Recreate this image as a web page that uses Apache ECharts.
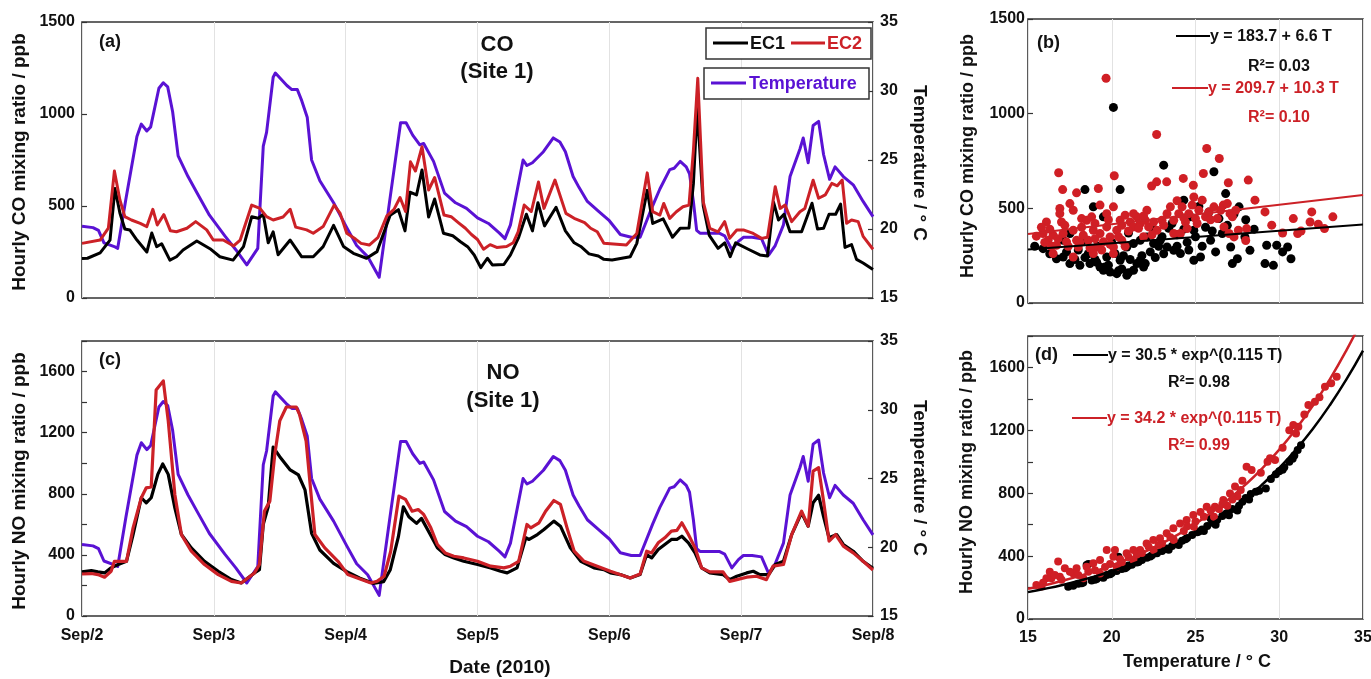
<!DOCTYPE html>
<html><head><meta charset="utf-8">
<script src="https://cdn.jsdelivr.net/npm/echarts@6/dist/echarts.min.js"></script>
<style>html,body{margin:0;padding:0;background:#fff}#chart{width:1371px;height:679px}</style>
</head><body><div id="chart"></div>
<script>
// ---------- DATA ----------
const dayLabels = ['Sep/2','Sep/3','Sep/4','Sep/5','Sep/6','Sep/7','Sep/8'];
// [hours since Sep/2 00:00, value]
const temperature = [[0,20.2],[2,20.1],[3,19.9],[4,19.0],[6,18.7],[6.5,18.6],[8,22.2],[10,26.7],[10.8,27.6],[11.8,27.1],[12.5,27.4],[14,30.2],[14.8,30.6],[15.6,30.3],[16.5,28.5],[17.5,25.3],[19.3,23.8],[21.1,22.5],[23.2,21.0],[26,19.5],[28,18.5],[30,17.4],[32,18.6],[33,26.0],[33.6,27.0],[34.8,31.0],[35.2,31.3],[37.3,30.4],[38.2,30.1],[39.2,30.1],[40,29.3],[41,28.1],[41.8,25.0],[43.3,23.5],[45.8,21.9],[48.2,20.1],[50,18.8],[52,18.0],[54.1,16.5],[56,22.0],[58,27.7],[59,27.7],[60.2,26.8],[61.5,26.1],[62.2,26.2],[64,24.9],[66,22.6],[68,21.9],[70,21.5],[72,20.8],[74,20.4],[76,19.7],[77,19.3],[78,20.3],[80.3,25.0],[81,24.6],[82,24.8],[84,25.6],[85.8,26.6],[87,26.3],[88,25.6],[89.4,23.8],[90.5,23.0],[92,22.0],[94,21.3],[96,20.6],[98,19.6],[100,19.4],[101.6,19.4],[102.2,20.0],[103.9,21.7],[105.2,22.9],[107,24.3],[107.8,24.4],[108.9,24.9],[110,24.5],[110.6,24.0],[111.3,22.0],[111.9,19.9],[112.5,19.7],[116,19.7],[117,19.5],[118.3,18.5],[119.5,19.1],[120.4,19.4],[122,19.4],[123.7,19.3],[125,18.1],[126.2,18.8],[127.7,20.3],[128.9,23.8],[130.7,25.8],[131.3,26.6],[132.2,24.8],[133.1,27.5],[134.1,27.8],[135,25.4],[136.1,23.6],[137.1,24.5],[138.6,23.8],[140.4,23.2],[142.2,22.0],[144,20.9]];

const coEC1 = [[0,215],[1,216],[3.3,245],[5.1,315],[6,595],[6.9,462],[7.8,375],[8.7,370],[10,315],[11.8,250],[12.7,353],[13.6,279],[14.5,295],[16,206],[17.2,224],[18.4,261],[20.9,310],[23.3,268],[25.1,224],[27.5,206],[29.4,279],[30.9,442],[32.1,433],[33,455],[33.9,300],[34.8,360],[35.7,235],[37.9,315],[40,224],[42.1,224],[43.9,279],[45.8,395],[47.6,280],[49.4,243],[51.8,216],[53.7,252],[56.1,450],[57.6,480],[58.8,365],[59.7,575],[60.9,560],[61.9,696],[63.1,440],[64.2,538],[65.8,352],[67.5,338],[68.9,306],[70.2,279],[71.4,234],[72.6,165],[73.8,216],[74.7,180],[76.8,182],[78,234],[79.5,330],[80.9,455],[82,365],[83,518],[84.2,392],[86.3,493],[88,365],[89.6,300],[90.8,280],[92.3,240],[94,228],[95,210],[96.5,206],[99.8,224],[101,297],[102.9,585],[103.9,405],[105.8,430],[107.5,330],[108.9,379],[110.5,380],[111.3,620],[112,1030],[113.1,500],[114.2,340],[115.8,270],[117,300],[118,225],[119,300],[121.3,265],[123.4,234],[124.8,228],[125.9,520],[126.8,424],[127.8,455],[128.9,360],[131,360],[132.9,515],[133.9,375],[135,379],[136,455],[137.2,455],[138.1,510],[138.9,275],[140.1,290],[141,210],[142.2,190],[144,155]];

const coEC2 = [[0,297],[3.3,315],[4.8,380],[5.9,690],[6.9,533],[7.8,442],[9,424],[10.6,406],[11.8,388],[12.9,482],[13.7,397],[14.9,453],[16.1,365],[17.2,360],[19.1,379],[20.7,415],[22.7,370],[23.9,315],[25.7,315],[27.6,283],[28.8,315],[30.9,505],[32.4,487],[33.6,442],[34.8,424],[36.6,440],[37.9,482],[38.9,385],[40.9,370],[42.1,352],[43.9,388],[45.9,505],[47,460],[48.2,352],[49.8,320],[50.8,297],[52.3,288],[53.9,330],[55.5,446],[56.8,482],[57.9,546],[58.9,470],[59.8,740],[60.7,690],[61.9,822],[63.1,587],[64.2,655],[65.9,451],[67.2,442],[68.5,410],[69.8,379],[70.9,345],[72,318],[73.1,265],[74.3,290],[75.5,275],[77.3,280],[78.5,300],[79.4,360],[80.5,505],[81.8,470],[83.1,630],[84.1,487],[86.1,641],[88.1,460],[89.6,433],[91.5,410],[92.6,379],[93.8,360],[95,297],[99.1,288],[101,350],[102.9,680],[103.9,469],[105.2,451],[105.9,514],[107,433],[108.2,469],[109.4,496],[110.5,505],[111.3,800],[112.1,1194],[113.1,523],[114.3,379],[115.8,360],[117,415],[117.9,324],[119.2,370],[120.4,370],[122.2,351],[123.7,324],[124.8,330],[126.2,605],[127.1,487],[128,505],[129.2,415],[130.7,469],[131.6,487],[133.1,640],[134.1,542],[135.3,560],[136.5,623],[137.5,610],[138.4,641],[139.2,406],[140.1,424],[141.3,415],[142.2,335],[144,265]];

const noEC1 = [[0,289],[1.7,297],[2.9,289],[4.1,282],[5.3,315],[6.6,337],[8.1,358],[9.3,533],[10.8,774],[11.7,741],[12.6,774],[13.8,927],[14.7,995],[15.7,927],[16.9,708],[18.1,533],[19.9,446],[22.3,358],[24.8,293],[27.2,238],[29,216],[31.4,282],[32.3,304],[33,600],[33.9,715],[34.8,1105],[36,1043],[37.9,956],[39.4,923],[40.6,825],[41.8,541],[43.3,432],[45.8,345],[48.2,290],[50.6,247],[53,214],[54.9,225],[56.1,301],[57.6,519],[58.5,715],[59.5,650],[60.9,606],[61.8,639],[63.3,540],[64.7,446],[66.1,402],[67.7,380],[69.5,358],[72,337],[74.4,315],[76.2,293],[77.4,282],[79.2,315],[80.8,512],[81.4,501],[82.9,533],[84.1,566],[85.9,621],[87.1,588],[88.9,446],[90.8,358],[93.2,315],[95,304],[96.2,282],[98,271],[99.8,249],[101.6,271],[102.8,402],[103.7,380],[104.9,435],[106.1,468],[107.3,501],[108.3,501],[109.2,522],[110.4,479],[111.6,413],[112.8,315],[114.3,282],[116.7,271],[117.9,238],[119.2,260],[121,282],[122.2,293],[123.4,271],[125,271],[126.2,337],[127.7,358],[129.2,533],[131,675],[132.2,588],[133.1,741],[134.1,790],[135,650],[136,512],[137.4,533],[138.6,468],[140.4,424],[142.2,358],[144,312]];

const noEC2 = [[0,275],[1.7,278],[2.9,271],[4.1,254],[5.3,293],[5.9,358],[8.1,358],[9.3,577],[10.8,774],[11.7,839],[12.6,845],[13.5,1480],[14.8,1539],[15.7,1277],[16.9,796],[18.1,533],[19.9,424],[22.3,337],[24.8,271],[27.2,227],[29,216],[31.4,282],[32.3,337],[33.2,686],[34.2,752],[35.1,1058],[36,1277],[37.2,1368],[39,1368],[39.6,1320],[40.8,1145],[41.7,796],[42.4,533],[44.2,446],[46.6,358],[48.4,271],[50,250],[52.6,216],[53.7,227],[55,260],[56.2,424],[57.7,785],[58.9,763],[60.1,686],[61.2,697],[62.2,665],[63.5,577],[64.7,468],[66.1,413],[67.7,391],[69.5,380],[72,358],[74.4,326],[76.8,315],[78,326],[79.5,358],[81,599],[81.7,577],[83.2,610],[84.4,686],[85.9,756],[87.1,730],[88.3,577],[89.6,424],[91.4,358],[93.8,326],[96.2,293],[99.8,249],[101.6,275],[102.8,424],[103.7,413],[104.9,479],[106.1,512],[107.3,555],[108.3,560],[109.2,610],[110.4,533],[111.6,446],[112.8,315],[114.3,289],[116.7,289],[117.9,227],[119.2,238],[121,254],[122.8,260],[124.6,238],[125.8,326],[127.7,337],[129.2,533],[131,686],[132.2,588],[133.1,949],[134.1,971],[135,752],[136,490],[137.2,533],[138.6,457],[140.4,413],[142.2,358],[144,301]];

// scatter [temperature, mixing ratio]
const coScatterEC1 = [[20.1,1033],[23.1,728],[26.1,693],[18.4,599],[20.5,599],[26.8,578],[27.6,508],[29.25,305],[29.85,305],[30.2,270],[30.5,296],[30.7,234],[29.15,208],[29.65,199],[27.1,296],[27.2,208],[27.5,234],[28.25,278],[27.95,349],[28.0,440],[24.3,543],[24.7,455],[24.9,384],[24.9,226],[25.3,243],[25.9,331],[26.4,446],[26.6,367],[26.2,270],[25.6,400],[25.0,350],[24.5,320],[23.9,360],[23.4,395],[23.0,350],[22.8,300],[16.7,234],[17.1,243],[17.5,208],[18.1,199],[18.7,208],[19.3,190],[19.5,173],[19.9,164],[20.3,155],[20.9,146],[21.3,173],[21.5,208],[21.9,190],[22.0,208],[20.5,226],[19.7,243],[20.2,261],[20.9,296],[21.3,314],[21.7,331],[22.1,349],[22.5,314],[22.9,331],[23.3,296],[23.7,278],[24.1,261],[22.5,384],[17.5,367],[17.1,331],[15.9,287],[15.4,300],[18.9,508],[19.5,455],[18.0,280],[18.6,260],[19.0,230],[19.8,200],[20.6,180],[21.1,230],[21.8,250],[22.3,270],[17.8,230],[16.3,260],[20.0,320],[19.2,300],[18.3,330],[21.0,370],[23.6,420],[24.6,280],[26.9,410],[27.3,470],[25.8,480],[28.5,390],[25.2,510],[19.1,215],[19.6,190],[20.4,170],[21.0,160],[21.7,225],[22.6,240],[23.1,260],[23.9,300],[24.3,390],[25.4,300],[26.0,380],[20.7,250],[18.4,240],[17.3,270]];

const coScatterEC2 = [[19.66,1187],[22.68,890],[25.67,816],[26.42,763],[16.83,688],[20.15,672],[24.27,658],[25.47,684],[26.96,635],[28.15,649],[22.38,618],[23.28,640],[22.68,640],[17.07,599],[17.9,582],[19.2,605],[24.87,622],[28.55,543],[16.9,499],[17.7,490],[18.2,446],[19.3,517],[16.1,428],[17.0,428],[29.15,481],[29.55,411],[30.84,446],[31.94,481],[31.84,428],[32.33,416],[32.7,393],[33.2,455],[31.1,367],[28.05,393],[27.56,384],[27.06,472],[26.66,517],[15.5,353],[15.9,367],[16.2,331],[16.5,358],[16.7,305],[17.1,367],[17.3,323],[17.7,384],[18.0,296],[18.3,358],[18.6,331],[18.9,384],[19.1,296],[19.3,367],[19.5,323],[19.7,402],[19.9,349],[20.1,296],[20.3,384],[20.5,437],[20.6,331],[20.8,464],[21.1,428],[21.3,402],[21.5,455],[21.7,420],[22.0,437],[22.2,402],[22.5,428],[22.7,384],[23.0,437],[23.3,472],[23.5,508],[23.7,437],[24.0,472],[24.2,508],[24.4,428],[24.6,472],[24.8,517],[25.0,446],[25.2,490],[25.4,543],[25.6,455],[25.8,481],[26.1,508],[26.3,446],[26.5,490],[26.7,402],[26.9,525],[27.2,455],[27.4,490],[23.7,367],[24.1,367],[24.5,393],[18.5,437],[16.9,472],[17.5,525],[17.9,331],[18.8,455],[19.7,472],[20.1,508],[21.3,472],[22.1,490],[27.3,349],[27.0,367],[16.5,261],[17.7,243],[18.9,261],[20.1,261],[15.8,400],[16.4,300],[19.0,340],[20.8,300],[21.9,350],[30.2,370],[31.3,380],[16.0,320],[16.8,340],[17.4,300],[18.1,320],[18.7,290],[19.4,280],[19.9,310],[20.4,350],[21.0,380],[21.6,395],[22.4,360],[23.1,410],[24.3,450],[25.1,420],[25.9,440],[16.3,390],[17.2,410],[18.2,400],[19.0,420],[19.8,440],[20.6,410],[21.9,460],[23.9,540],[24.9,560],[28.0,330]];

const noScatterEC1 = [[17.4,205],[17.7,212],[18.0,225],[18.3,232],[18.5,343],[18.6,350],[18.8,245],[19.1,255],[19.4,265],[19.7,280],[20.0,292],[20.3,305],[20.4,396],[20.6,318],[20.9,330],[21.2,345],[21.5,360],[21.8,375],[22.1,390],[22.4,405],[22.7,418],[23.0,432],[23.3,448],[23.6,465],[23.9,480],[24.2,498],[24.5,515],[24.8,535],[25.1,552],[25.4,570],[25.7,592],[26.0,612],[26.3,632],[26.6,655],[26.9,675],[27.2,700],[27.5,690],[27.8,745],[28.0,770],[28.3,795],[28.6,810],[29.2,830],[29.5,890],[29.8,920],[30.0,940],[30.3,965],[30.6,1000],[30.9,1040],[31.1,1075],[31.3,1105],[21.0,340],[22.6,425],[24.0,470],[25.5,560],[26.2,600],[27.0,660],[19.5,262],[23.4,440],[25.9,640],[28.2,760],[18.2,228],[19.0,250],[19.9,285],[20.8,322],[21.6,362],[22.3,398],[23.2,445],[24.4,508],[25.2,556],[26.1,618],[26.8,668],[27.6,720],[28.8,815],[30.2,950],[30.8,1020]];

const noScatterEC2 = [[33.43,1541],[33.1,1500],[32.73,1478],[32.4,1410],[32.13,1382],[31.74,1361],[31.5,1300],[31.14,1223],[30.84,1234],[30.6,1200],[29.45,1022],[29.75,1011],[29.3,1000],[28.05,969],[28.35,948],[27.8,880],[27.36,842],[27.06,799],[26.66,757],[26.16,714],[25.67,714],[25.3,680],[24.87,661],[24.47,630],[24.08,608],[23.68,577],[23.28,545],[22.88,513],[22.48,502],[22.08,481],[21.69,439],[21.29,439],[20.89,418],[20.19,439],[19.70,439],[20.1,396],[19.3,375],[18.9,354],[18.5,333],[17.9,322],[17.7,290],[16.8,365],[17.2,322],[16.4,259],[16.1,259],[15.5,216],[15.8,206],[16.9,269],[18.3,259],[19.3,290],[20.3,333],[21.3,375],[22.5,439],[23.7,502],[24.9,587],[26.1,651],[26.9,720],[27.5,780],[25.9,690],[24.3,560],[23.0,480],[21.8,420],[20.6,360],[19.0,310],[18.0,280],[22.2,460],[23.5,520],[25.0,620],[26.4,700],[27.2,760],[16.3,300],[17.0,250],[19.9,350],[21.0,395],[15.9,230],[16.6,280],[17.5,300],[18.6,300],[19.6,330],[20.5,380],[21.5,410],[22.8,470],[24.5,590],[25.5,650],[26.6,730],[27.7,820],[28.9,930],[30.2,1090],[31.0,1180]];

// fit lines as drawn
const linFitT = [15, 35];
const linFitEC1 = [282.7, 414.7];
const linFitEC2 = [364.2, 570.2];
const expFitT = [15,16,17,18,19,20,21,22,23,24,25,26,27,28,29,30,31,32,33,34,35];
const expFitEC1 = [171,192,215,242,271,304,341,383,430,482,541,607,681,763,857,961,1078,1209,1357,1522,1707];
const expFitEC2 = [192,215,242,271,304,341,383,429,482,540,606,680,763,856,960,1077,1209,1356,1521,1707,1915];

// ---------- CHART ----------
const FONT = '"Liberation Sans", Arial, Helvetica, sans-serif';
const BLACK = '#000000', RED = '#cc2127', PURPLE = '#5a12d4', FRAME = '#333333';
const chart = echarts.init(document.getElementById('chart'), null, {renderer: 'canvas'});

const lbl = (extra) => Object.assign({color: '#111', fontWeight: 'bold', fontSize: 16, fontFamily: FONT, formatter: v => String(v)}, extra || {});
const tickIn = {show: true, inside: true, length: 5, lineStyle: {color: FRAME, width: 1.2}};
const noLine = {show: false};
const vSplit = {show: true, lineStyle: {color: '#e2e2e2', width: 1}};

const grids = [
  {left: 82, top: 22, width: 791, height: 276},
  {left: 82, top: 341, width: 791, height: 275},
  {left: 1028, top: 19, width: 335, height: 284},
  {left: 1028, top: 336, width: 335, height: 283}
].map(g => Object.assign(g, {show: true, borderColor: FRAME, borderWidth: 1.6, backgroundColor: '#fff', containLabel: false, outerBoundsMode: 'none'}));

const xAxes = [
  {gridIndex: 0, type: 'value', min: 0, max: 144, interval: 24, axisLabel: {show: false}, axisTick: {show: false}, axisLine: noLine, splitLine: vSplit},
  {gridIndex: 1, type: 'value', min: 0, max: 144, interval: 24, axisLabel: lbl({margin: 12, formatter: v => dayLabels[Math.round(v / 24)]}), axisTick: {show: false}, axisLine: noLine, splitLine: vSplit},
  {gridIndex: 2, type: 'value', min: 15, max: 35, interval: 5, axisLabel: {show: false}, axisTick: {show: false}, axisLine: noLine, splitLine: vSplit},
  {gridIndex: 3, type: 'value', min: 15, max: 35, interval: 5, axisLabel: lbl({margin: 11}), axisTick: {show: false}, axisLine: noLine, splitLine: vSplit}
];
const yAxes = [
  {gridIndex: 0, type: 'value', position: 'left', min: 0, max: 1500, interval: 500, axisLabel: lbl({margin: 7}), axisTick: tickIn, axisLine: noLine, splitLine: {show: false}},
  {gridIndex: 0, type: 'value', position: 'right', min: 15, max: 35, interval: 5, axisLabel: lbl({margin: 7}), axisTick: tickIn, axisLine: noLine, splitLine: {show: false}},
  {gridIndex: 1, type: 'value', position: 'left', min: 0, max: 1800, interval: 200, axisLabel: lbl({margin: 7, formatter: v => (v % 400 === 0 ? String(v) : '')}), axisTick: tickIn, axisLine: noLine, splitLine: {show: false}},
  {gridIndex: 1, type: 'value', position: 'right', min: 15, max: 35, interval: 5, axisLabel: lbl({margin: 7}), axisTick: tickIn, axisLine: noLine, splitLine: {show: false}},
  {gridIndex: 2, type: 'value', position: 'left', min: 0, max: 1500, interval: 500, axisLabel: lbl({margin: 3}), axisTick: tickIn, axisLine: noLine, splitLine: {show: false}},
  {gridIndex: 3, type: 'value', position: 'left', min: 0, max: 1800, interval: 200, axisLabel: lbl({margin: 3, formatter: v => (v % 400 === 0 ? String(v) : '')}), axisTick: tickIn, axisLine: noLine, splitLine: {show: false}}
];

const lineS = (name, data, xi, yi, color, width, z) => ({
  name, type: 'line', xAxisIndex: xi, yAxisIndex: yi, data, symbol: 'none', showSymbol: false,
  lineStyle: {color, width, join: 'round'}, itemStyle: {color}, z: z || 2, clip: true, silent: true
});
const scatS = (name, data, xi, yi, color, size) => ({
  name, type: 'scatter', xAxisIndex: xi, yAxisIndex: yi, data, symbolSize: size,
  itemStyle: {color, opacity: 1}, z: 3, silent: true
});
const pairs = (xs, ys) => xs.map((x, i) => [x, ys[i]]);

const series = [
  lineS('Temperature', temperature, 0, 1, PURPLE, 3, 2),
  lineS('CO EC1', coEC1, 0, 0, BLACK, 3, 3),
  lineS('CO EC2', coEC2, 0, 0, RED, 3, 4),
  lineS('Temperature (NO)', temperature, 1, 3, PURPLE, 3, 2),
  lineS('NO EC1', noEC1, 1, 2, BLACK, 3.2, 3),
  lineS('NO EC2', noEC2, 1, 2, RED, 3.2, 4),
  scatS('CO EC1 vs T', coScatterEC1, 2, 4, BLACK, 9),
  scatS('CO EC2 vs T', coScatterEC2, 2, 4, '#d01f25', 9),
  lineS('CO EC1 fit', pairs(linFitT, linFitEC1), 2, 4, BLACK, 2, 5),
  lineS('CO EC2 fit', pairs(linFitT, linFitEC2), 2, 4, RED, 2, 5),
  scatS('NO EC1 vs T', noScatterEC1, 3, 5, BLACK, 8),
  scatS('NO EC2 vs T', noScatterEC2, 3, 5, '#d01f25', 8),
  Object.assign(lineS('NO EC1 fit', pairs(expFitT, expFitEC1), 3, 5, BLACK, 2.5, 5), {smooth: true}),
  Object.assign(lineS('NO EC2 fit', pairs(expFitT, expFitEC2), 3, 5, RED, 2.5, 5), {smooth: true})
];

const txt = (x, y, text, size, color, align, rot) => ({
  type: 'text', x, y, rotation: rot || 0, z: 100,
  style: {text, fill: color || '#111', font: 'bold ' + size + 'px ' + FONT,
    textAlign: align || 'center', textVerticalAlign: 'middle', align: align || 'center', verticalAlign: 'middle'}
});
const seg = (x1, y1, x2, y2, color, w) => ({type: 'line', z: 100, shape: {x1, y1, x2, y2}, style: {stroke: color, lineWidth: w}});
const box = (x, y, w, h) => ({type: 'rect', z: 99, shape: {x, y, width: w, height: h}, style: {fill: '#fff', stroke: FRAME, lineWidth: 1.5}});

const graphics = [
  // panel tags
  txt(99, 42, '(a)', 18, '#111', 'left'),
  txt(99, 360, '(c)', 18, '#111', 'left'),
  txt(1037, 43, '(b)', 18, '#111', 'left'),
  txt(1035, 355, '(d)', 18, '#111', 'left'),
  // titles
  txt(497, 45, 'CO', 22),
  txt(497, 72, '(Site 1)', 22),
  txt(503, 373, 'NO', 22),
  txt(503, 401, '(Site 1)', 22),
  // legend
  box(706, 28, 165, 31),
  seg(713, 43, 748, 43, BLACK, 3),
  txt(750, 44, 'EC1', 18, '#111', 'left'),
  seg(791, 43, 825, 43, RED, 3),
  txt(827, 44, 'EC2', 18, RED, 'left'),
  box(704, 68, 165, 31),
  seg(711, 83, 746, 83, PURPLE, 3),
  txt(749, 84, 'Temperature', 18, PURPLE, 'left'),
  // axis names
  txt(20, 162, 'Hourly CO mixing ratio / ppb', 19, '#111', 'center', Math.PI / 2),
  txt(20, 481, 'Hourly NO mixing ratio / ppb', 19, '#111', 'center', Math.PI / 2),
  txt(919, 163, 'Temperature / \u00B0 C', 19, '#111', 'center', -Math.PI / 2),
  txt(919, 478, 'Temperature / \u00B0 C', 19, '#111', 'center', -Math.PI / 2),
  txt(968, 156, 'Hourly CO mixing ratio / ppb', 18, '#111', 'center', Math.PI / 2),
  txt(967, 472, 'Hourly NO mixing ratio / ppb', 18, '#111', 'center', Math.PI / 2),
  txt(500, 668, 'Date (2010)', 19),
  txt(1197, 662, 'Temperature / \u00B0 C', 18),
  // equations (b)
  seg(1176, 36, 1210, 36, BLACK, 2),
  txt(1210, 37, 'y = 183.7 + 6.6 T', 16, '#111', 'left'),
  txt(1248, 67, 'R\u00B2= 0.03', 16, '#111', 'left'),
  seg(1172, 88, 1208, 88, RED, 2),
  txt(1208, 89, 'y = 209.7 + 10.3 T', 16, RED, 'left'),
  txt(1248, 118, 'R\u00B2= 0.10', 16, RED, 'left'),
  // equations (d)
  seg(1073, 355, 1108, 355, BLACK, 2),
  txt(1108, 356, 'y = 30.5 * exp^(0.115 T)', 16, '#111', 'left'),
  txt(1168, 383, 'R\u00B2= 0.98', 16, '#111', 'left'),
  seg(1072, 418, 1107, 418, RED, 2),
  txt(1107, 419, 'y = 34.2 * exp^(0.115 T)', 16, RED, 'left'),
  txt(1168, 446, 'R\u00B2= 0.99', 16, RED, 'left')
];

chart.setOption({
  animation: false,
  backgroundColor: '#fff',
  grid: grids,
  xAxis: xAxes,
  yAxis: yAxes,
  series,
  graphic: graphics
});
</script>
</body></html>
